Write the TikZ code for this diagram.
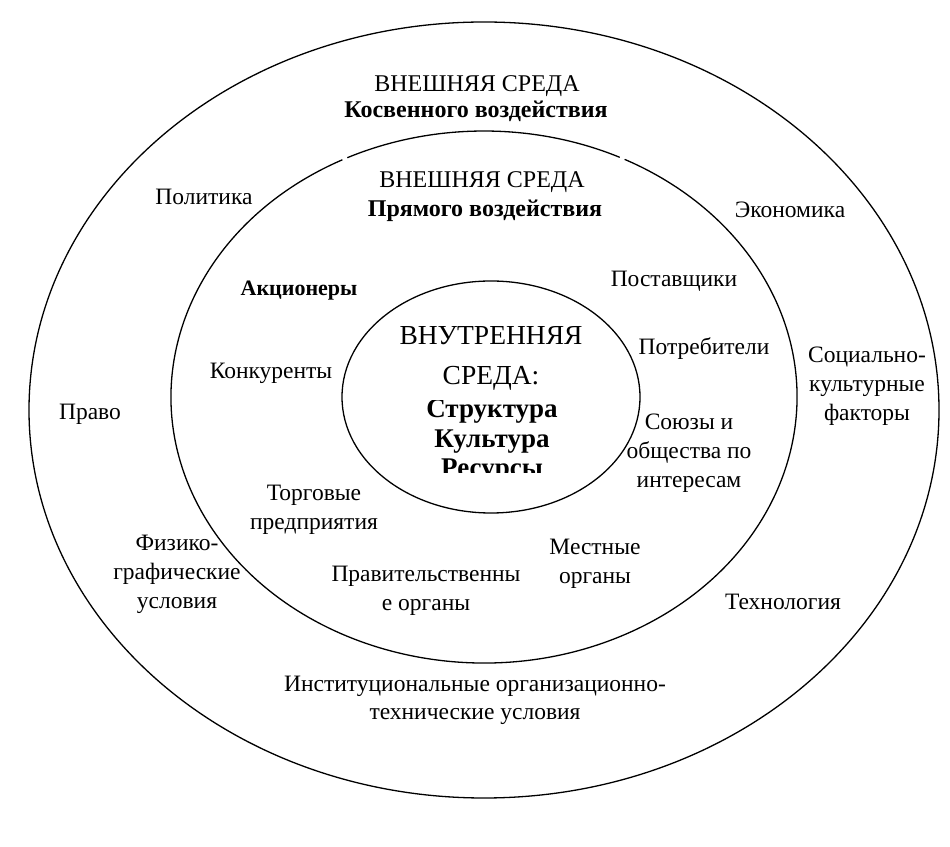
\documentclass[tikz,border=0pt]{standalone}
\usepackage{fontspec}
\setmainfont{Liberation Serif}

\begin{document}
\begin{tikzpicture}[x=1pt,y=1pt,line width=1.3pt,
  lbl/.style={align=center,anchor=base,inner sep=0pt,font=\fontsize{23.5}{29}\selectfont},
  head/.style={align=center,anchor=base,inner sep=0pt,font=\fontsize{24}{29}\selectfont},
  headb/.style={align=center,anchor=base,inner sep=0pt,font=\bfseries\fontsize{24}{29}\selectfont},
  inhead/.style={align=center,anchor=base,inner sep=0pt,font=\fontsize{27.5}{40}\selectfont},
  inbold/.style={align=center,anchor=base,inner sep=0pt,font=\bfseries\fontsize{27}{29.5}\selectfont}]
\useasboundingbox[fill=white] (0,0) rectangle (950,846);

% rings
\draw[color=black] (484,436) ellipse [x radius=455, y radius=388];
\draw[color=black] (484,449) ++(64.3:313 and 266) arc[start angle=64.3, end angle=115.9, x radius=313, y radius=266];
\draw[color=black] (484,449) ++(116.9:313 and 266) arc[start angle=116.9, end angle=423.3, x radius=313, y radius=266];
\draw[color=black] (491,449) ellipse [x radius=149, y radius=116];

% outer ring
\node (O1) at (477,754) [head] {ВНЕШНЯЯ СРЕДА};
\node (O2) at (476,728) [headb] {Косвенного воздействия};
\node (P1) at (204,641) [lbl] {Политика};
\node (P2) at (790,628) [lbl] {Экономика};
\node (P3) at (90,426) [lbl] {Право};
\node (P4) at (867,425) [lbl] {Социально-\\культурные\\факторы};
\node (P5) at (177,237) [lbl] {Физико-\\графические\\условия};
\node (P6) at (783,236) [lbl] {Технология};
\node (P7) at (475,126) [lbl] {Институциональные организационно-\\технические условия};

% middle ring
\node (M1) at (482,658) [head] {ВНЕШНЯЯ СРЕДА};
\node (M2) at (485,629) [headb] {Прямого воздействия};
\node (D1) at (299,550) [lbl,font=\bfseries\fontsize{22}{29}\selectfont] {Акционеры};
\node (D2) at (674,559) [lbl] {Поставщики};
\node (D3) at (704,491) [lbl] {Потребители};
\node (D4) at (271,467) [lbl] {Конкуренты};
\node (D5) at (689,358) [lbl] {Союзы и\\общества по\\интересам};
\node (D6) at (314,316) [lbl] {Торговые\\предприятия};
\node (D7) at (595,262) [lbl] {Местные\\органы};
\node (D8) at (426,235) [lbl] {Правительственны\\е органы};

% inner ring
\node (I1) at (491,461) [inhead] {ВНУТРЕННЯЯ\\СРЕДА:};
\begin{scope}
\clip (380,373) rectangle (600,445);
\node (I2) at (492,369) [inbold] {Структура\\Культура\\Ресурсы};
\end{scope}

\end{tikzpicture}
\end{document}
